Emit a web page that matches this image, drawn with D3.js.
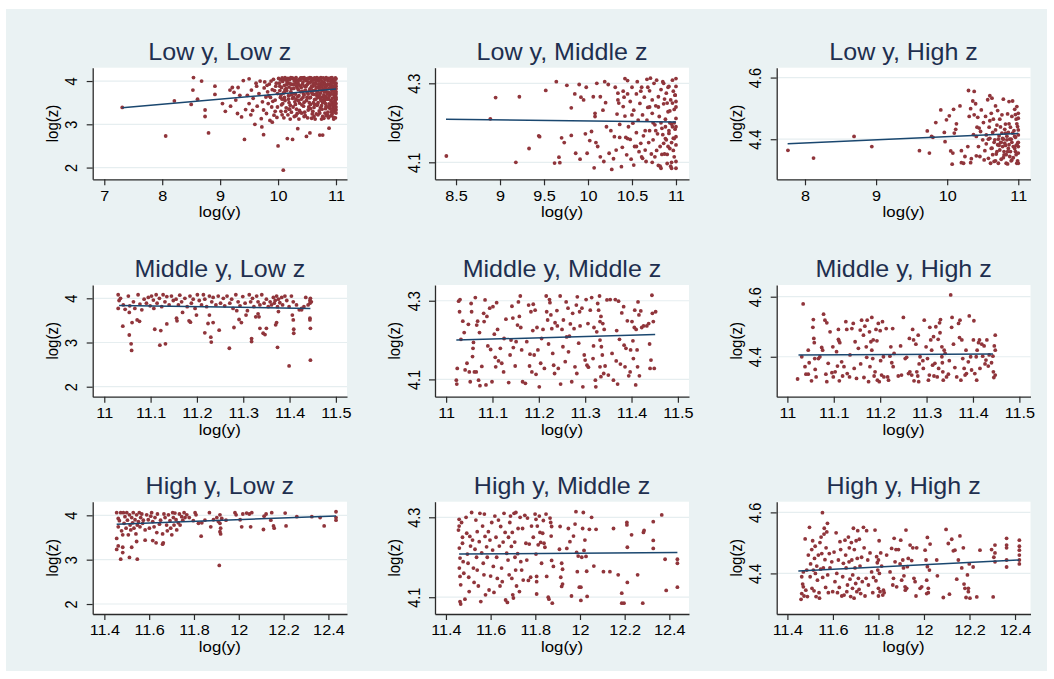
<!DOCTYPE html>
<html><head><meta charset="utf-8">
<script src="https://cdn.jsdelivr.net/npm/d3@7"></script>
<style>
body{margin:0;background:#fff;}
svg{display:block;}
text{font-family:"Liberation Sans",Arial,Helvetica,sans-serif;}
</style>
</head><body>
<svg id="chart" width="1054" height="679"></svg>
<script>
// ---------------- DATA ----------------
const panelTitles = ["Low y, Low z","Low y, Middle z","Low y, High z",
  "Middle y, Low z","Middle y, Middle z","Middle y, High z",
  "High y, Low z","High y, Middle z","High y, High z"];
const xAxisTitle = "log(y)";
const yAxisTitle = "log(z)";

const xTicks = [[7,8,9,10,11],[8.5,9,9.5,10,10.5,11],[8,9,10,11],
  [11,11.1,11.2,11.3,11.4,11.5],[11,11.1,11.2,11.3,11.4,11.5],[11,11.1,11.2,11.3,11.4,11.5],
  [11.4,11.6,11.8,12,12.2,12.4],[11.4,11.6,11.8,12,12.2,12.4],[11.4,11.6,11.8,12,12.2,12.4]];
const yTicks = [[2,3,4],[4.1,4.3],[4.4,4.6],[2,3,4],[4.1,4.3],[4.4,4.6],[2,3,4],[4.1,4.3],[4.4,4.6]];
const xRanges = [[6.80,11.19],[8.261,11.148],[7.602,11.172],
  [10.975,11.524],[10.976,11.524],[10.977,11.524],
  [11.348,12.483],[11.351,12.488],[11.353,12.468]];
const yRanges = [[1.729,4.308],[4.057,4.3395],[4.270,4.632],
  [1.774,4.301],[4.056,4.340],[4.267,4.639],
  [1.775,4.307],[4.058,4.339],[4.267,4.635]];

// fitted lines (endpoints)
const fitLowLow = [[7.31,3.38],[11.0,3.815]];
const fitLowMid = [[8.386,4.209],[11.0,4.202]];
const fitLowHigh = [[7.756,4.385],[11.0,4.419]];
const fitMidLow = [[11.032,3.84],[11.445,3.77]];
const fitMidMid = [[11.022,4.200],[11.451,4.214]];
const fitMidHigh = [[11.024,4.406],[11.443,4.409]];
const fitHighLow = [[11.455,3.797],[12.434,3.985]];
const fitHighMid = [[11.459,4.208],[12.436,4.212]];
const fitHighHigh = [[11.448,4.408],[12.419,4.444]];

const lowLow = [[7.31,3.39],[8.06,2.73],[8.21,3.54],[8.50,3.46],[8.54,4.08],[8.53,3.79],[8.61,3.58],[8.68,4.00],[8.74,3.33],[8.74,3.18],[8.80,2.80],[8.91,3.88],[8.91,3.69],[9.04,3.48],[9.09,3.30],[9.17,3.79],[9.18,3.42],[9.21,3.85],[9.24,3.74],[9.27,3.56],[9.30,3.25],[9.31,3.85],[9.34,3.67],[9.37,3.17],[9.40,4.01],[9.42,2.65],[9.44,3.34],[9.47,3.67],[9.50,4.05],[9.50,3.48],[9.53,3.22],[9.54,3.79],[9.56,3.32],[9.57,3.60],[9.60,3.00],[9.62,3.95],[9.63,3.88],[9.64,3.42],[9.67,3.71],[9.69,4.00],[9.71,3.13],[9.72,2.94],[9.73,3.52],[9.75,2.76],[9.75,3.33],[9.76,3.84],[9.77,3.98],[9.79,3.63],[9.80,3.25],[9.82,3.75],[9.83,3.48],[9.85,3.93],[9.86,3.09],[9.87,3.62],[9.89,3.40],[9.90,3.80],[9.92,4.04],[9.93,3.21],[9.95,3.56],[9.96,3.88],[9.98,3.16],[9.99,3.71],[10.00,2.50],[10.09,1.94],[10.16,2.67],[10.25,2.65],[10.34,2.90],[10.49,2.72],[10.55,2.80],[10.72,2.75],[10.77,2.75],[10.88,2.91],
[10.02,3.95],[10.04,3.62],[10.05,3.30],[10.06,3.85],[10.07,4.02],[10.08,3.48],[10.09,3.72],[10.10,3.15],[10.11,3.90],[10.12,3.55],[10.13,4.05],[10.14,3.38],[10.15,3.78],[10.16,3.97],[10.17,3.22],[10.18,3.66],[10.19,3.86],[10.20,4.03],[10.21,3.44],[10.22,3.75],[10.23,3.28],[10.24,3.92],[10.25,3.60],[10.26,4.06],[10.27,3.83],[10.28,3.18],[10.29,3.52],[10.30,3.70],[10.31,3.95],[10.32,3.35],[10.33,4.01],[10.34,3.64],[10.35,3.80],[10.36,3.12],[10.37,3.49],[10.38,3.89],[10.39,4.07],[10.40,3.58],[10.41,3.26],[10.42,3.76],[10.43,3.98],[10.44,3.42],[10.45,3.68],[10.46,4.04],[10.47,3.20],[10.48,3.87],[10.49,3.55],[10.50,3.73],[10.51,3.93],[10.52,3.33],[10.53,4.06],[10.54,3.61],[10.55,3.82],[10.56,3.46],[10.57,3.99],[10.58,3.14],[10.59,3.70],[10.60,3.88],[10.61,4.02],[10.62,3.39],[10.63,3.57],[10.64,3.79],[10.65,3.96],[10.66,3.24],[10.67,3.66],[10.68,4.05],[10.69,3.50],[10.70,3.85],[10.71,3.31],[10.72,3.92],[10.73,3.72],[10.74,4.08],[10.75,3.43],[10.76,3.63],[10.77,3.18],[10.78,3.81],[10.79,3.97],[10.80,3.54],[10.81,4.03],[10.82,3.36],[10.83,3.75],[10.84,3.90],[10.85,3.22],[10.86,3.60],[10.87,4.06],[10.88,3.47],[10.89,3.84],[10.90,3.68],[10.91,3.99],[10.92,3.29],[10.93,3.78],[10.94,4.04],[10.95,3.52],[10.96,3.16],[10.97,3.87],[10.98,3.65],[10.99,4.07],[11.00,3.40],
[10.03,3.78],[10.06,3.45],[10.08,3.99],[10.11,3.62],[10.14,3.83],[10.17,4.06],[10.19,3.35],[10.22,3.93],[10.25,3.71],[10.28,4.00],[10.30,3.46],[10.33,3.84],[10.36,3.66],[10.39,3.27],[10.42,3.93],[10.45,3.51],[10.47,3.79],[10.50,4.05],[10.53,3.40],[10.55,3.96],[10.58,3.74],[10.60,3.30],[10.63,3.91],[10.65,3.58],[10.68,3.76],[10.70,4.00],[10.73,3.38],[10.75,3.86],[10.78,3.56],[10.80,3.95],[10.83,3.20],[10.85,4.05],[10.87,3.74],[10.90,3.44],[10.92,3.90],[10.94,3.60],[10.96,3.97],[10.98,3.33],[11.00,3.82],
[10.10,4.04],[10.15,4.01],[10.20,3.94],[10.24,4.07],[10.29,4.03],[10.34,3.97],[10.38,4.02],[10.43,4.07],[10.48,4.01],[10.52,3.98],[10.57,4.07],[10.61,3.94],[10.66,4.03],[10.71,4.06],[10.76,3.99],[10.81,3.93],[10.86,4.00],[10.91,4.07],[10.95,4.01],[11.00,4.05],[11.00,3.95],[11.00,3.70],[11.00,3.58],[11.00,3.26],[11.00,3.48],[11.00,3.88],[10.99,3.15],[10.99,3.55],[10.99,3.92],[10.98,3.78],[10.97,3.44],[10.97,4.02],[10.96,3.69],
[10.05,3.68],[10.12,3.80],[10.18,3.58],[10.23,3.82],[10.27,3.63],[10.32,3.88],[10.35,3.55],[10.40,3.85],[10.44,3.70],[10.49,3.90],[10.54,3.78],[10.58,3.88],[10.62,3.69],[10.66,3.85],[10.69,3.62],[10.72,3.80],[10.74,3.55],[10.77,3.90],[10.80,3.75],[10.82,3.64],[10.84,3.82],[10.87,3.58],[10.89,3.92],[10.91,3.72],[10.93,3.50],[10.95,3.85],[10.97,3.62],[10.98,3.90],
[10.07,3.22],[10.13,3.30],[10.21,3.12],[10.26,3.40],[10.31,3.20],[10.37,3.32],[10.41,3.45],[10.46,3.28],[10.51,3.15],[10.56,3.36],[10.59,3.24],[10.64,3.12],[10.67,3.44],[10.72,3.26],[10.76,3.35],[10.79,3.14],[10.83,3.42],[10.86,3.28],[10.88,3.18],[10.90,3.36],[10.93,3.23],[10.95,3.40],[10.97,3.28],[10.99,3.35],
[9.81,3.90],[9.84,3.66],[9.88,4.00],[9.91,3.53],[9.94,3.78],[9.97,3.95],[9.99,3.40],[9.90,3.05],[9.95,3.30],
[10.01,4.06],[10.04,4.03],[10.07,4.07],[10.12,4.08],[10.18,4.05],[10.22,4.08],[10.27,4.05],[10.31,4.08],[10.36,4.04],[10.41,4.07],[10.45,4.08],[10.51,4.06],[10.55,4.08],[10.59,4.05],[10.63,4.07],[10.67,4.08],[10.73,4.04],[10.78,4.07],[10.83,4.08],[10.88,4.05],[10.93,4.08],[10.98,4.03],
[10.52,3.70],[10.56,3.62],[10.61,3.50],[10.64,3.92],[10.68,3.45],[10.71,3.66],[10.74,3.95],[10.77,3.50],[10.79,3.68],[10.81,3.85],[10.82,3.48],[10.84,3.58],[10.86,3.92],[10.88,3.64],[10.89,3.38],[10.91,3.55],[10.92,3.82],[10.94,3.45],[10.96,3.76],[10.97,3.52],[10.99,3.66],[11.00,3.75],[11.00,3.62],[11.00,3.33],[10.98,3.47],[10.95,3.34],[10.93,3.96],[10.90,3.84],[10.87,3.40],[10.85,3.70],[10.83,3.88],[10.80,3.62],[10.76,3.78],[10.73,3.60],[10.70,3.92],[10.67,3.72],[10.63,3.46],[10.60,3.78],[10.57,3.84],[10.54,3.50],[10.50,3.62],[10.46,3.88],[10.43,3.62],[10.39,3.75],[10.35,3.92],[10.31,3.58],[10.27,3.92],[10.23,3.68],[10.19,3.50],[10.15,3.92],[10.11,3.75],[10.07,3.58],[10.03,3.88],
[10.62,3.18],[10.69,3.22],[10.75,3.12],[10.81,3.26],[10.87,3.15],[10.92,3.20],[10.96,3.12],[10.45,3.18],[10.33,3.25],[10.20,3.35]];

const lowMid = [[8.39,4.116],[8.89,4.21],[8.95,4.264],[9.18,4.10],[9.22,4.266],[9.33,4.135],[9.44,4.167],[9.45,4.165],[9.52,4.282],[9.62,4.098],[9.64,4.304],[9.67,4.113],[9.68,4.099],[9.70,4.162],[9.73,4.15],[9.76,4.295],[9.81,4.238],[9.81,4.168],[9.85,4.273],[9.86,4.123],[9.90,4.297],[9.91,4.108],[9.92,4.265],[9.95,4.258],[9.97,4.172],[9.98,4.29],[9.99,4.123],[10.02,4.155],[10.04,4.178],[10.06,4.266],[10.07,4.086],[10.08,4.224],[10.08,4.216],[10.10,4.30],[10.09,4.15],[10.11,4.14],[10.14,4.266],[10.14,4.114],[10.17,4.232],[10.18,4.102],[10.19,4.304],[10.20,4.251],[10.21,4.19],[10.23,4.297],[10.24,4.123],[10.26,4.18],[10.27,4.082],[10.29,4.109],[10.31,4.29],[10.30,4.165],[10.32,4.131],[10.33,4.222],[10.34,4.258],[10.34,4.275],[10.36,4.163],[10.36,4.196],[10.38,4.089],[10.39,4.138],[10.40,4.241],[10.41,4.265],[10.42,4.312],[10.42,4.217],[10.43,4.163],[10.44,4.119],[10.45,4.307],[10.45,4.273],[10.46,4.19],[10.48,4.254],[10.48,4.158],[10.49,4.108],[10.50,4.29],[10.51,4.199],[10.52,4.093],[10.52,4.232],[10.53,4.14],[10.55,4.273],[10.55,4.175],[10.56,4.304],[10.57,4.207],[10.58,4.127],[10.59,4.249],[10.60,4.148],[10.61,4.114],[10.61,4.29],[10.62,4.22],[10.63,4.167],[10.64,4.265],[10.65,4.131],[10.66,4.102],[10.67,4.207],[10.67,4.31],[10.68,4.239],[10.69,4.15],[10.70,4.281],[10.70,4.18],[10.71,4.313],[10.72,4.121],[10.73,4.224],[10.73,4.258],[10.74,4.157],[10.75,4.30],[10.76,4.195],[10.76,4.114],[10.77,4.243],[10.78,4.308],[10.79,4.172],[10.80,4.266],[10.80,4.092],[10.81,4.216],[10.82,4.14],[10.83,4.284],[10.83,4.085],[10.84,4.186],[10.85,4.304],[10.86,4.148],[10.86,4.248],[10.87,4.121],[10.88,4.209],[10.89,4.275],[10.89,4.157],[10.90,4.097],[10.91,4.228],[10.92,4.292],[10.92,4.173],[10.93,4.135],[10.94,4.258],[10.95,4.085],[10.95,4.197],[10.96,4.308],[10.97,4.161],[10.98,4.234],[10.98,4.114],[10.99,4.27],[10.99,4.184],[11.00,4.144],[11.00,4.312],[11.00,4.254],[11.00,4.211],[11.00,4.102],[11.00,4.085],[11.00,4.292],[11.00,4.165],
[10.85,4.17],[10.88,4.16],[10.92,4.18],[10.95,4.15],[10.97,4.13],[10.90,4.12],[10.93,4.23],[10.96,4.25],[10.99,4.27],[10.87,4.26],[10.83,4.20],[10.78,4.13],[10.74,4.20],[10.70,4.24],[10.65,4.18],[10.60,4.28],[10.55,4.14],[10.50,4.22],[10.45,4.16],[10.40,4.28],[10.35,4.25],[10.62,4.11],[10.68,4.29],[10.91,4.29],[10.98,4.20],[10.94,4.09],[10.82,4.09],
[10.96,4.19],[10.98,4.16],[11.00,4.24],[11.00,4.19],[10.97,4.28],[10.93,4.20],[10.90,4.25],[10.88,4.19],[10.86,4.30],[10.84,4.12],[10.80,4.24],[10.77,4.18],[10.73,4.10],[10.95,4.10],[10.91,4.14]];

const lowHigh = [[7.76,4.364],[8.12,4.339],[8.69,4.409],[8.94,4.376],[9.61,4.363],[9.72,4.427],[9.75,4.355],[9.78,4.409],[9.80,4.406],[9.84,4.454],[9.91,4.495],[9.96,4.422],[9.97,4.392],[9.99,4.463],[10.03,4.476],[10.05,4.362],[10.07,4.319],[10.08,4.355],[10.09,4.497],[10.10,4.42],[10.12,4.432],[10.13,4.45],[10.18,4.508],[10.20,4.324],[10.20,4.363],[10.23,4.322],[10.25,4.344],[10.29,4.376],[10.30,4.558],[10.31,4.474],[10.33,4.324],[10.33,4.499],[10.34,4.337],[10.36,4.524],[10.37,4.415],[10.38,4.555],[10.38,4.479],[10.40,4.515],[10.41,4.409],[10.41,4.346],[10.42,4.439],[10.43,4.471],[10.44,4.376],[10.45,4.436],[10.46,4.344],[10.47,4.425],[10.48,4.495],[10.50,4.398],[10.51,4.454],[10.52,4.333],[10.53,4.363],[10.54,4.474],[10.55,4.414],[10.55,4.385],[10.57,4.528],[10.58,4.338],[10.59,4.439],[10.60,4.541],[10.60,4.403],[10.61,4.322],[10.62,4.484],[10.63,4.371],[10.63,4.533],[10.64,4.422],[10.65,4.465],[10.66,4.328],[10.67,4.398],[10.68,4.508],[10.69,4.352],[10.70,4.446],[10.71,4.382],[10.71,4.493],[10.72,4.322],[10.73,4.411],[10.74,4.365],[10.74,4.465],[10.75,4.389],[10.76,4.335],[10.77,4.479],[10.78,4.403],[10.78,4.376],[10.79,4.53],[10.80,4.349],[10.81,4.432],[10.81,4.387],[10.82,4.449],[10.83,4.322],[10.84,4.398],[10.85,4.36],[10.85,4.482],[10.86,4.422],[10.87,4.382],[10.87,4.522],[10.88,4.344],[10.89,4.439],[10.90,4.4],[10.91,4.474],[10.91,4.333],[10.92,4.524],[10.93,4.376],[10.94,4.428],[10.95,4.497],[10.96,4.36],[10.96,4.406],[10.97,4.465],[10.98,4.322],[10.98,4.506],[10.99,4.387],[10.99,4.441],[11.00,4.484],[11.00,4.355],[11.00,4.414],[11.00,4.322],[11.00,4.468],[11.00,4.376],
[10.76,4.39],[10.79,4.40],[10.82,4.38],[10.84,4.41],[10.86,4.37],[10.88,4.40],[10.80,4.36],[10.77,4.42],[10.83,4.35],[10.89,4.36],[10.73,4.38],[10.91,4.39],[10.95,4.41],[10.97,4.38],[10.93,4.34],[10.70,4.36],[10.66,4.39],[10.62,4.37],[10.58,4.40],[10.68,4.33],
[10.97,4.35],[10.99,4.33],[10.95,4.37],[10.92,4.42],[10.90,4.33],[10.87,4.45],[10.85,4.32],[10.82,4.42],[10.79,4.34],[10.75,4.44],[10.72,4.40],[10.68,4.43],[10.64,4.35],[10.60,4.46],[10.98,4.45],[10.96,4.48],[11.00,4.39],[11.00,4.43]];

const midLow = [[11.04,3.37],[11.054,3.17],[11.058,2.97],[11.059,2.82],[11.06,3.45],[11.071,3.51],[11.076,3.48],[11.109,3.30],[11.12,2.94],[11.122,3.27],[11.132,2.97],[11.135,3.42],[11.156,3.55],[11.157,3.49],[11.169,3.68],[11.183,3.49],[11.186,3.46],[11.199,3.62],[11.217,3.22],[11.224,3.43],[11.227,3.62],[11.23,3.12],[11.231,3.01],[11.235,3.45],[11.248,3.28],[11.27,2.87],[11.28,3.34],[11.286,3.72],[11.291,3.52],[11.296,3.45],[11.306,3.62],[11.318,3.09],[11.318,3.02],[11.327,3.58],[11.332,3.65],[11.334,3.58],[11.336,3.32],[11.343,3.21],[11.347,3.18],[11.35,3.32],[11.37,3.40],[11.372,3.45],[11.374,2.89],[11.376,3.70],[11.399,2.47],[11.406,3.62],[11.408,3.51],[11.409,3.30],[11.409,3.21],[11.426,3.74],[11.444,3.55],[11.444,3.51],[11.445,3.32],[11.445,2.60],[11.444,3.89],[11.447,3.92],
[11.03,4.08],[11.032,3.95],[11.03,3.77],[11.035,4.00],[11.041,3.85],[11.045,3.75],[11.052,4.05],[11.055,3.83],[11.054,3.68],[11.063,3.92],[11.066,3.77],[11.073,4.08],[11.077,3.87],[11.081,3.74],[11.086,3.98],[11.091,3.89],[11.095,4.02],[11.099,3.83],[11.102,4.05],[11.106,3.96],[11.107,3.77],[11.112,4.08],[11.114,3.89],[11.119,4.00],[11.124,3.81],[11.127,4.08],[11.131,3.92],[11.135,4.04],[11.14,3.85],[11.145,4.05],[11.149,3.95],[11.155,3.98],[11.16,3.85],[11.163,4.07],[11.167,3.92],[11.174,4.00],[11.179,3.81],[11.185,4.05],[11.188,3.89],[11.192,3.98],[11.196,3.77],[11.201,4.08],[11.205,3.95],[11.21,3.85],[11.214,4.08],[11.217,3.98],[11.221,3.81],[11.227,4.05],[11.232,3.92],[11.235,4.02],[11.241,3.85],[11.246,4.05],[11.251,3.89],[11.257,4.00],[11.26,3.83],[11.265,4.05],[11.271,3.89],[11.275,3.98],[11.278,3.77],[11.284,4.08],[11.289,3.92],[11.293,3.83],[11.299,4.04],[11.304,3.89],[11.309,3.72],[11.313,4.08],[11.316,3.92],[11.32,4.00],[11.323,3.81],[11.329,4.05],[11.332,3.92],[11.336,3.85],[11.34,4.08],[11.345,3.89],[11.35,3.98],[11.354,3.81],[11.358,3.92],[11.361,3.85],[11.365,4.02],[11.367,3.89],[11.369,3.95],[11.372,4.05],[11.374,3.81],[11.376,3.98],[11.379,3.90],[11.383,4.02],[11.385,3.85],[11.39,4.05],[11.394,3.95],[11.399,3.81],[11.404,4.05],[11.408,3.92],[11.415,3.85],[11.421,3.74],[11.426,3.77],[11.431,3.81],[11.435,4.02],[11.44,3.85],[11.444,3.95],[11.445,4.00]];

const midMid = [[11.022,4.098],[11.023,4.088],[11.024,4.128],[11.027,4.299],[11.03,4.303],[11.029,4.272],[11.032,4.202],[11.036,4.248],[11.039,4.219],[11.041,4.124],[11.045,4.141],[11.048,4.24],[11.05,4.119],[11.052,4.094],[11.054,4.293],[11.055,4.272],[11.057,4.158],[11.058,4.179],[11.059,4.194],[11.061,4.119],[11.063,4.308],[11.065,4.119],[11.066,4.238],[11.068,4.248],[11.07,4.098],[11.072,4.219],[11.073,4.084],[11.077,4.133],[11.081,4.268],[11.082,4.247],[11.084,4.302],[11.086,4.086],[11.088,4.26],[11.09,4.185],[11.094,4.281],[11.096,4.176],[11.099,4.094],[11.101,4.285],[11.104,4.215],[11.106,4.156],[11.107,4.132],[11.109,4.295],[11.111,4.227],[11.113,4.147],[11.117,4.179],[11.12,4.141],[11.124,4.119],[11.125,4.204],[11.129,4.253],[11.135,4.092],[11.138,4.162],[11.14,4.2],[11.142,4.286],[11.144,4.256],[11.145,4.181],[11.149,4.134],[11.151,4.196],[11.154,4.238],[11.156,4.297],[11.158,4.26],[11.16,4.312],[11.161,4.232],[11.163,4.175],[11.165,4.094],[11.171,4.09],[11.174,4.196],[11.178,4.289],[11.18,4.134],[11.181,4.164],[11.183,4.272],[11.185,4.119],[11.187,4.224],[11.188,4.291],[11.19,4.162],[11.192,4.276],[11.194,4.113],[11.196,4.232],[11.198,4.175],[11.201,4.081],[11.204,4.141],[11.206,4.204],[11.209,4.227],[11.212,4.128],[11.216,4.312],[11.217,4.272],[11.219,4.251],[11.221,4.19],[11.223,4.303],[11.224,4.295],[11.226,4.264],[11.228,4.229],[11.23,4.166],[11.232,4.136],[11.234,4.115],[11.235,4.244],[11.239,4.275],[11.24,4.236],[11.242,4.128],[11.246,4.312],[11.247,4.088],[11.25,4.227],[11.252,4.183],[11.253,4.251],[11.257,4.145],[11.259,4.297],[11.26,4.208],[11.263,4.281],[11.264,4.17],[11.266,4.21],[11.268,4.241],[11.271,4.094],[11.273,4.268],[11.276,4.229],[11.278,4.132],[11.281,4.289],[11.282,4.115],[11.283,4.31],[11.286,4.192],[11.288,4.272],[11.289,4.236],[11.293,4.281],[11.295,4.081],[11.298,4.162],[11.3,4.149],[11.302,4.303],[11.304,4.136],[11.306,4.242],[11.307,4.131],[11.311,4.276],[11.314,4.308],[11.317,4.153],[11.318,4.185],[11.319,4.232],[11.322,4.098],[11.323,4.081],[11.325,4.221],[11.327,4.293],[11.329,4.276],[11.331,4.312],[11.332,4.247],[11.332,4.2],[11.332,4.132],[11.334,4.107],[11.334,4.26],[11.335,4.183],[11.337,4.162],[11.338,4.242],[11.34,4.115],[11.341,4.227],[11.343,4.134],[11.347,4.302],[11.35,4.111],[11.354,4.303],[11.358,4.166],[11.361,4.098],[11.365,4.303],[11.367,4.147],[11.368,4.224],[11.37,4.088],[11.372,4.299],[11.374,4.202],[11.376,4.139],[11.379,4.269],[11.383,4.285],[11.384,4.187],[11.386,4.132],[11.388,4.179],[11.391,4.249],[11.394,4.109],[11.397,4.119],[11.398,4.175],[11.401,4.247],[11.403,4.198],[11.404,4.153],[11.406,4.232],[11.407,4.276],[11.409,4.086],[11.41,4.227],[11.412,4.175],[11.413,4.132],[11.414,4.297],[11.416,4.264],[11.417,4.109],[11.42,4.274],[11.422,4.232],[11.426,4.236],[11.433,4.236],[11.437,4.242],[11.439,4.19],[11.44,4.128],[11.442,4.149],[11.444,4.314],[11.445,4.268],[11.447,4.247],[11.449,4.128],[11.452,4.272]];

const midHigh = [[11.022,4.326],[11.034,4.576],[11.031,4.40],[11.038,4.367],[11.04,4.342],[11.045,4.342],[11.045,4.422],[11.047,4.38],[11.052,4.32],[11.056,4.524],[11.055,4.498],[11.057,4.461],[11.058,4.447],[11.059,4.394],[11.06,4.358],[11.062,4.333],[11.067,4.394],[11.07,4.40],[11.074,4.431],[11.076,4.422],[11.078,4.542],[11.081,4.522],[11.085,4.513],[11.083,4.342],[11.085,4.317],[11.088,4.378],[11.092,4.483],[11.096,4.347],[11.098,4.433],[11.099,4.333],[11.103,4.35],[11.106,4.417],[11.108,4.369],[11.11,4.491],[11.11,4.458],[11.111,4.453],[11.113,4.447],[11.112,4.32],[11.117,4.383],[11.119,4.336],[11.122,4.367],[11.126,4.517],[11.128,4.491],[11.129,4.344],[11.134,4.333],[11.135,4.406],[11.139,4.494],[11.142,4.511],[11.144,4.361],[11.146,4.45],[11.149,4.328],[11.153,4.428],[11.157,4.489],[11.158,4.376],[11.16,4.522],[11.164,4.472],[11.165,4.331],[11.167,4.502],[11.17,4.433],[11.171,4.398],[11.172,4.522],[11.175,4.317],[11.177,4.483],[11.178,4.367],[11.18,4.45],[11.182,4.531],[11.182,4.422],[11.184,4.394],[11.185,4.456],[11.187,4.336],[11.189,4.35],[11.191,4.491],[11.193,4.453],[11.194,4.322],[11.196,4.511],[11.198,4.317],[11.2,4.487],[11.201,4.387],[11.203,4.339],[11.205,4.517],[11.207,4.40],[11.208,4.333],[11.213,4.494],[11.216,4.333],[11.218,4.322],[11.221,4.402],[11.223,4.433],[11.225,4.38],[11.227,4.494],[11.228,4.367],[11.23,4.411],[11.239,4.336],[11.244,4.436],[11.246,4.339],[11.25,4.531],[11.254,4.394],[11.257,4.398],[11.261,4.344],[11.263,4.461],[11.264,4.35],[11.268,4.339],[11.27,4.491],[11.272,4.456],[11.273,4.32],[11.277,4.442],[11.279,4.35],[11.281,4.336],[11.282,4.472],[11.283,4.317],[11.284,4.376],[11.286,4.40],[11.292,4.387],[11.293,4.361],[11.295,4.522],[11.299,4.433],[11.302,4.394],[11.304,4.322],[11.306,4.339],[11.307,4.498],[11.309,4.456],[11.311,4.422],[11.313,4.372],[11.315,4.467],[11.316,4.336],[11.318,4.378],[11.32,4.5],[11.323,4.333],[11.325,4.458],[11.326,4.361],[11.328,4.513],[11.329,4.48],[11.33,4.524],[11.333,4.433],[11.333,4.40],[11.334,4.38],[11.335,4.35],[11.336,4.322],[11.338,4.422],[11.34,4.411],[11.343,4.333],[11.347,4.342],[11.349,4.387],[11.352,4.606],[11.354,4.498],[11.355,4.531],[11.358,4.442],[11.361,4.364],[11.365,4.333],[11.369,4.511],[11.371,4.464],[11.372,4.522],[11.374,4.322],[11.376,4.456],[11.378,4.394],[11.381,4.361],[11.383,4.339],[11.385,4.422],[11.386,4.344],[11.39,4.383],[11.392,4.536],[11.395,4.40],[11.397,4.356],[11.401,4.456],[11.402,4.52],[11.404,4.344],[11.407,4.40],[11.408,4.322],[11.409,4.422],[11.412,4.447],[11.414,4.456],[11.415,4.361],[11.419,4.442],[11.421,4.402],[11.424,4.436],[11.426,4.376],[11.428,4.389],[11.43,4.456],[11.433,4.369],[11.435,4.406],[11.44,4.38],[11.443,4.402],[11.444,4.35],[11.445,4.331],[11.446,4.436],[11.448,4.472],[11.448,4.422],[11.448,4.339]];

const highLow = [[11.455,3.48],[11.455,3.23],[11.462,3.31],[11.473,3.01],[11.482,3.28],[11.482,3.16],[11.512,3.05],[11.522,3.28],[11.547,3.01],[11.544,3.41],[11.582,3.44],[11.616,3.43],[11.631,3.38],[11.66,3.35],[11.663,3.38],[11.832,3.53],[11.913,2.87],[11.916,3.63],[11.919,3.58],
[11.455,4.06],[11.462,3.93],[11.462,3.74],[11.467,3.88],[11.473,4.06],[11.477,3.65],[11.482,3.56],[11.485,4.06],[11.488,3.82],[11.492,3.97],[11.497,3.71],[11.5,4.06],[11.503,3.89],[11.507,3.56],[11.512,4.01],[11.515,3.78],[11.518,3.67],[11.522,3.95],[11.526,3.83],[11.529,4.06],[11.532,3.71],[11.537,3.90],[11.541,3.58],[11.544,4.01],[11.547,3.78],[11.552,3.86],[11.556,4.06],[11.559,3.74],[11.562,3.95],[11.567,4.03],[11.571,3.82],[11.574,3.89],[11.582,3.67],[11.589,4.01],[11.596,3.90],[11.601,3.71],[11.607,3.98],[11.611,4.06],[11.616,3.86],[11.622,3.74],[11.626,3.95],[11.634,3.61],[11.637,4.03],[11.646,3.80],[11.651,3.89],[11.66,3.58],[11.666,4.03],[11.671,3.95],[11.678,3.78],[11.681,3.65],[11.686,4.01],[11.693,3.88],[11.696,3.71],[11.701,3.56],[11.705,4.06],[11.708,3.95],[11.711,3.78],[11.715,4.05],[11.72,3.90],[11.723,3.67],[11.73,3.83],[11.735,4.03],[11.738,3.78],[11.745,3.97],[11.75,3.89],[11.756,4.06],[11.76,3.95],[11.768,4.01],[11.779,3.95],[11.797,3.88],[11.805,4.06],[11.809,4.01],[11.82,3.82],[11.835,3.83],[11.849,3.89],[11.869,4.06],[11.875,3.74],[11.887,3.90],[11.902,3.95],[11.909,3.86],[11.916,4.01],[11.916,3.82],[11.919,3.71],[11.924,3.93],[11.943,3.89],[11.983,4.06],[11.988,4.01],[12.006,3.90],[12.013,3.74],[12.018,4.03],[12.035,4.05],[12.047,4.03],[12.053,3.74],[12.058,4.06],[12.11,3.68],[12.113,3.98],[12.122,4.03],[12.143,3.89],[12.147,4.06],[12.155,3.76],[12.158,3.71],[12.207,4.05],[12.211,3.76],[12.259,3.97],[12.326,3.97],[12.363,3.95],[12.381,3.76],[12.434,4.08],[12.434,3.95],[12.434,3.89]];

const highMid = [[11.459,4.295],[11.459,4.278],[11.456,4.268],[11.46,4.223],[11.463,4.198],[11.46,4.173],[11.463,4.152],[11.466,4.131],[11.463,4.089],[11.466,4.083],[11.47,4.287],[11.474,4.25],[11.474,4.235],[11.477,4.189],[11.48,4.16],[11.485,4.095],[11.49,4.30],[11.493,4.26],[11.496,4.208],[11.499,4.185],[11.502,4.15],[11.504,4.114],[11.507,4.252],[11.51,4.228],[11.515,4.312],[11.519,4.243],[11.523,4.173],[11.526,4.137],[11.53,4.22],[11.534,4.293],[11.537,4.2],[11.54,4.264],[11.54,4.168],[11.545,4.128],[11.549,4.239],[11.552,4.31],[11.556,4.089],[11.56,4.211],[11.564,4.278],[11.567,4.185],[11.57,4.156],[11.572,4.308],[11.575,4.252],[11.577,4.106],[11.582,4.226],[11.585,4.2],[11.59,4.264],[11.593,4.118],[11.597,4.243],[11.6,4.153],[11.605,4.287],[11.609,4.218],[11.612,4.177],[11.615,4.112],[11.619,4.303],[11.624,4.25],[11.627,4.2],[11.63,4.147],[11.635,4.293],[11.639,4.228],[11.642,4.128],[11.645,4.277],[11.649,4.173],[11.652,4.139],[11.656,4.238],[11.66,4.31],[11.665,4.262],[11.667,4.093],[11.672,4.21],[11.675,4.087],[11.678,4.193],[11.68,4.25],[11.683,4.156],[11.686,4.287],[11.689,4.303],[11.693,4.227],[11.695,4.147],[11.697,4.262],[11.699,4.106],[11.702,4.098],[11.705,4.31],[11.708,4.238],[11.709,4.2],[11.712,4.168],[11.713,4.312],[11.716,4.128],[11.721,4.209],[11.723,4.272],[11.729,4.114],[11.732,4.30],[11.735,4.189],[11.739,4.168],[11.743,4.272],[11.746,4.143],[11.753,4.305],[11.758,4.235],[11.762,4.193],[11.765,4.298],[11.769,4.142],[11.773,4.233],[11.779,4.15],[11.783,4.278],[11.791,4.25],[11.799,4.308],[11.803,4.295],[11.803,4.208],[11.806,4.152],[11.806,4.139],[11.806,4.108],[11.809,4.278],[11.813,4.231],[11.818,4.303],[11.821,4.262],[11.824,4.237],[11.828,4.185],[11.833,4.26],[11.836,4.292],[11.839,4.235],[11.843,4.225],[11.848,4.308],[11.851,4.152],[11.858,4.10],[11.861,4.095],[11.866,4.298],[11.869,4.287],[11.871,4.253],[11.873,4.277],[11.873,4.192],[11.876,4.085],[11.881,4.177],[11.911,4.277],[11.908,4.22],[11.914,4.15],[11.918,4.127],[11.918,4.185],[11.922,4.17],[11.922,4.133],[11.941,4.222],[11.948,4.272],[11.955,4.239],[11.962,4.103],[11.971,4.253],[11.978,4.283],[11.982,4.314],[11.985,4.212],[11.988,4.164],[11.992,4.203],[11.997,4.125],[12.004,4.125],[12.004,4.092],[12.008,4.2],[12.012,4.272],[12.015,4.312],[12.018,4.217],[12.022,4.243],[12.027,4.202],[12.03,4.165],[12.032,4.102],[12.042,4.27],[12.052,4.30],[12.062,4.178],[12.072,4.27],[12.105,4.164],[12.134,4.164],[12.15,4.272],[12.171,4.156],[12.187,4.11],[12.187,4.085],[12.197,4.085],[12.21,4.287],[12.21,4.281],[12.212,4.225],[12.212,4.137],[12.231,4.256],[12.258,4.156],[12.281,4.085],[12.284,4.262],[12.287,4.267],[12.328,4.289],[12.328,4.242],[12.328,4.222],[12.366,4.306],[12.381,4.195],[12.386,4.117],[12.436,4.195],[12.436,4.185],[12.436,4.125]];

const highHigh = [[11.46,4.315],[11.463,4.334],[11.467,4.365],[11.463,4.389],[11.47,4.356],[11.47,4.405],[11.473,4.326],[11.478,4.513],[11.481,4.345],[11.485,4.411],[11.488,4.324],[11.492,4.46],[11.497,4.551],[11.5,4.389],[11.502,4.431],[11.507,4.478],[11.508,4.351],[11.511,4.507],[11.514,4.411],[11.517,4.343],[11.519,4.449],[11.522,4.489],[11.523,4.40],[11.526,4.324],[11.529,4.424],[11.532,4.378],[11.536,4.46],[11.539,4.337],[11.541,4.319],[11.543,4.501],[11.546,4.414],[11.548,4.519],[11.551,4.465],[11.554,4.599],[11.555,4.387],[11.558,4.418],[11.561,4.529],[11.562,4.548],[11.565,4.445],[11.568,4.354],[11.57,4.484],[11.573,4.536],[11.576,4.564],[11.577,4.395],[11.58,4.337],[11.584,4.465],[11.587,4.418],[11.595,4.438],[11.599,4.34],[11.605,4.47],[11.609,4.373],[11.614,4.533],[11.617,4.40],[11.62,4.337],[11.624,4.444],[11.628,4.354],[11.631,4.504],[11.634,4.478],[11.639,4.326],[11.643,4.389],[11.646,4.433],[11.649,4.329],[11.653,4.509],[11.656,4.46],[11.658,4.418],[11.661,4.34],[11.664,4.362],[11.668,4.519],[11.671,4.438],[11.672,4.484],[11.675,4.381],[11.678,4.324],[11.681,4.501],[11.683,4.444],[11.686,4.351],[11.687,4.395],[11.69,4.548],[11.693,4.319],[11.694,4.478],[11.697,4.418],[11.7,4.367],[11.702,4.507],[11.705,4.34],[11.707,4.449],[11.709,4.54],[11.712,4.384],[11.715,4.348],[11.716,4.512],[11.719,4.424],[11.722,4.334],[11.726,4.453],[11.729,4.373],[11.734,4.551],[11.737,4.484],[11.741,4.326],[11.746,4.384],[11.748,4.54],[11.753,4.444],[11.756,4.362],[11.763,4.467],[11.77,4.405],[11.775,4.337],[11.778,4.387],[11.785,4.542],[11.789,4.376],[11.792,4.455],[11.795,4.435],[11.797,4.411],[11.8,4.444],[11.8,4.351],[11.8,4.326],[11.803,4.507],[11.804,4.40],[11.807,4.34],[11.81,4.467],[11.814,4.424],[11.819,4.329],[11.822,4.345],[11.825,4.337],[11.836,4.46],[11.851,4.405],[11.858,4.482],[11.863,4.362],[11.866,4.384],[11.869,4.515],[11.873,4.438],[11.877,4.478],[11.88,4.356],[11.888,4.478],[11.895,4.431],[11.898,4.509],[11.902,4.378],[11.907,4.444],[11.91,4.418],[11.912,4.392],[11.917,4.356],[11.918,4.345],[11.921,4.542],[11.924,4.351],[11.927,4.422],[11.931,4.449],[11.939,4.493],[11.946,4.442],[11.951,4.484],[11.956,4.384],[11.961,4.373],[11.965,4.326],[11.968,4.484],[11.983,4.351],[11.99,4.356],[12.005,4.476],[12.009,4.444],[12.012,4.378],[12.012,4.334],[12.015,4.518],[12.015,4.422],[12.019,4.351],[12.019,4.337],[12.024,4.411],[12.027,4.496],[12.056,4.444],[12.059,4.392],[12.085,4.321],[12.097,4.544],[12.107,4.498],[12.112,4.332],[12.122,4.512],[12.129,4.474],[12.136,4.476],[12.144,4.381],[12.151,4.444],[12.158,4.523],[12.166,4.418],[12.173,4.484],[12.176,4.365],[12.18,4.351],[12.185,4.321],[12.191,4.395],[12.195,4.34],[12.195,4.351],[12.199,4.431],[12.202,4.319],[12.216,4.421],[12.232,4.323],[12.246,4.476],[12.297,4.478],[12.304,4.323],[12.307,4.453],[12.312,4.493],[12.312,4.467],[12.312,4.438],[12.363,4.515],[12.363,4.493],[12.363,4.484],[12.363,4.444],[12.363,4.421],[12.419,4.509],[12.419,4.489],[12.419,4.476],[12.419,4.46],[12.419,4.444],[12.419,4.431]];

const panelPoints = [lowLow, lowMid, lowHigh, midLow, midMid, midHigh, highLow, highMid, highHigh];
const panelFits = [fitLowLow, fitLowMid, fitLowHigh, fitMidLow, fitMidMid, fitMidHigh, fitHighLow, fitHighMid, fitHighHigh];

// ---------------- LAYOUT ----------------
const W = 1054, H = 679;
const colLeft = [92.7, 435, 776.7], colRight = [347, 689, 1030.5];
const rowTop = [67.7, 285, 501.7], rowBottom = [179.3, 396.7, 614];
const sx = 1.12; // horizontal stretch of text

const COLORS = {bg:"#eaf2f3", plot:"#ffffff", grid:"#e6eef0", axis:"#2a2a2a",
  marker:"#90353b", fit:"#1a476f", title:"#1e2f4f", text:"#000000"};

const svg = d3.select("#chart");
svg.append("rect").attr("x",0).attr("y",0).attr("width",W).attr("height",H).attr("fill","#fff");
svg.append("rect").attr("x",6).attr("y",9).attr("width",1041).attr("height",662).attr("fill",COLORS.bg);

const fmt = v => d3.format("~g")(v);

panelPoints.forEach((pts, i) => {
  const r = Math.floor(i/3), c = i%3;
  const L = colLeft[c], R = colRight[c], T = rowTop[r], B = rowBottom[r];
  const x = d3.scaleLinear().domain(xRanges[i]).range([L, R]);
  const y = d3.scaleLinear().domain(yRanges[i]).range([B, T]);
  const g = svg.append("g");

  g.append("rect").attr("x",L).attr("y",T).attr("width",R-L).attr("height",B-T).attr("fill",COLORS.plot);

  g.selectAll("line.grid").data(yTicks[i]).enter().append("line")
    .attr("x1",L).attr("x2",R).attr("y1",d=>y(d)).attr("y2",d=>y(d))
    .attr("stroke",COLORS.grid).attr("stroke-width",1.2);

  g.selectAll("circle").data(pts).enter().append("circle")
    .attr("cx",d=>x(d[0])).attr("cy",d=>y(d[1])).attr("r",1.9)
    .attr("fill",COLORS.marker);

  g.append("path").datum(panelFits[i])
    .attr("d", d3.line().x(d=>x(d[0])).y(d=>y(d[1])))
    .attr("fill","none").attr("stroke",COLORS.fit).attr("stroke-width",1.5);

  const gx = g.append("g").attr("transform",`translate(0,${B})`)
    .call(d3.axisBottom(x).tickValues(xTicks[i]).tickSize(6).tickSizeOuter(0).tickFormat(fmt));
  gx.select(".domain").attr("stroke",COLORS.axis).attr("stroke-width",1.3);
  gx.selectAll(".tick line").attr("stroke",COLORS.axis).attr("stroke-width",1.2);
  gx.selectAll(".tick text").attr("y",21.5).attr("dy",null)
    .attr("font-size",14.5).attr("fill",COLORS.text)
    .attr("font-family","Liberation Sans, Arial, sans-serif")
    .attr("transform",`scale(${sx},1)`);

  const gy = g.append("g").attr("transform",`translate(${L},0)`)
    .call(d3.axisLeft(y).tickValues(yTicks[i]).tickSize(6).tickSizeOuter(0).tickFormat(fmt));
  gy.select(".domain").attr("stroke",COLORS.axis).attr("stroke-width",1.3);
  gy.selectAll(".tick line").attr("stroke",COLORS.axis).attr("stroke-width",1.2);
  gy.selectAll(".tick text").attr("x",null).attr("dy",null).attr("y",0)
    .attr("text-anchor","middle").attr("font-size",14.5).attr("fill",COLORS.text)
    .attr("font-family","Liberation Sans, Arial, sans-serif")
    .attr("transform",`translate(-15.4,0) scale(${sx},1) rotate(-90)`);

  g.append("text").attr("transform",`translate(${(L+R)/2},${B+38}) scale(${sx},1)`)
    .attr("text-anchor","middle").attr("font-size",15).attr("fill",COLORS.text).text(xAxisTitle);
  g.append("text").attr("transform",`translate(${L-34.7},${(T+B)/2}) scale(${sx},1) rotate(-90)`)
    .attr("text-anchor","middle").attr("font-size",15).attr("fill",COLORS.text).text(yAxisTitle);

  g.append("text").attr("transform",`translate(${(L+R)/2},${T-8}) scale(1.09,1)`)
    .attr("text-anchor","middle").attr("font-size",23).attr("fill",COLORS.title).text(panelTitles[i]);
});
</script>
</body></html>
